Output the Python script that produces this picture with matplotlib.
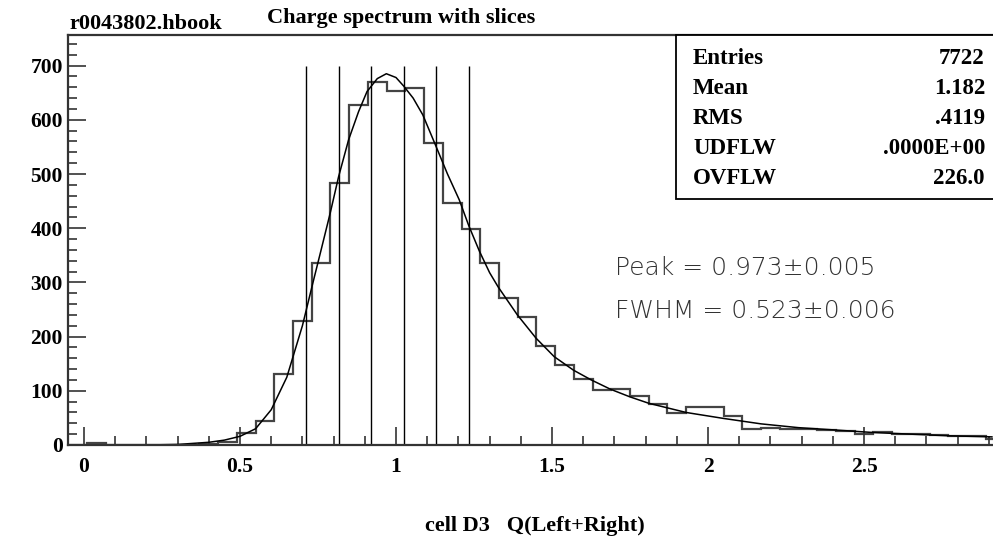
import numpy as np
import matplotlib
matplotlib.use("Agg")
import matplotlib.pyplot as plt
from matplotlib.patches import Rectangle
from matplotlib.ticker import MultipleLocator

# ---------------- data ----------------
bin_lo = -0.05
bin_width = 0.06
counts = [0, 3, 0, 0, 0, 0, 0, 1, 5, 23, 44, 131, 228, 336, 484, 627, 670, 653,
          659, 558, 447, 398, 335, 272, 236, 182, 148, 122, 101, 103, 91, 75, 59,
          70, 70, 53, 29, 32, 30, 29, 27, 25, 21, 24, 20, 20, 18, 16.5, 16.5, 11]

fit_x = [0.20, 0.30, 0.35, 0.40, 0.45, 0.50, 0.55, 0.60, 0.65, 0.70, 0.734, 0.76,
         0.79, 0.816, 0.848, 0.88, 0.907, 0.94, 0.969, 1.00, 1.025, 1.055, 1.086,
         1.129, 1.165, 1.203, 1.233, 1.267, 1.30, 1.327, 1.389, 1.449, 1.507,
         1.569, 1.626, 1.687, 1.749, 1.81, 1.93, 2.05, 2.17, 2.29, 2.40, 2.53,
         2.65, 2.77, 2.91]
fit_y = [0, 1, 3, 5, 9, 16, 30, 65, 125, 220, 300, 360, 430, 495, 563, 615, 652,
         676, 685, 678, 662, 640, 609, 550, 500, 452, 405, 358, 318, 292, 240,
         197, 163, 138, 120, 103, 89, 77, 60, 49, 39, 32, 28, 23, 20, 17, 15]

slice_x = [0.712, 0.816, 0.921, 1.025, 1.129, 1.234]
slice_top = 700

stat_names = ["Entries", "Mean", "RMS", "UDFLW", "OVFLW"]
stat_values = ["7722", "1.182", ".4119", ".0000E+00", "226.0"]

x_ticks = [0, 0.5, 1, 1.5, 2, 2.5]
x_ticklabels = ["0", "0.5", "1", "1.5", "2", "2.5"]
y_ticks = [0, 100, 200, 300, 400, 500, 600, 700]

peak_text = "Peak = 0.973\u00b10.005"
fwhm_text = "FWHM = 0.523\u00b10.006"
file_label = "r0043802.hbook"
title = "Charge spectrum with slices"
xlabel = "cell D3   Q(Left+Right)"

# ---------------- figure ----------------
W, H = 993, 539
fig = plt.figure(figsize=(W / 100, H / 100), dpi=100)

def fx(px):
    return px / W

def fy(py):
    return 1 - py / H

serif = ["Liberation Serif", "DejaVu Serif"]
ax_left, ax_right, ax_top, ax_bot = 68.4, 993.0, 35.0, 445.0
ax = fig.add_axes([fx(ax_left), fy(ax_bot), fx(ax_right - ax_left), (ax_bot - ax_top) / H])

px_per_unit = 312.0
ax.set_xlim(bin_lo, bin_lo + (ax_right - ax_left) / px_per_unit)
ax.set_ylim(0, (ax_bot - ax_top) / 0.542)

edges = bin_lo + bin_width * np.arange(len(counts) + 1)
ax.stairs(counts, edges, color="#444444", linewidth=1.6, baseline=None)

ax.plot(fit_x, fit_y, color="black", linewidth=1.1)
ax.vlines(slice_x, 0, slice_top, color="black", linewidth=1.0)

for side in ["left", "bottom", "top"]:
    ax.spines[side].set_linewidth(1.6)
    ax.spines[side].set_color("#333333")
ax.spines["right"].set_visible(False)

ax.set_xticks(x_ticks)
ax.set_xticklabels(x_ticklabels)
ax.set_yticks(y_ticks)
ax.xaxis.set_minor_locator(MultipleLocator(0.1))
ax.yaxis.set_minor_locator(MultipleLocator(20))
ax.tick_params(which="both", direction="in", top=False, right=False, color="#333333", width=1.2)
ax.tick_params(which="major", length=13)
ax.tick_params(which="minor", length=6.5)
ax.tick_params(axis="x", which="major", pad=9)
ax.tick_params(axis="y", which="major", pad=4)
for lab in ax.get_xticklabels() + ax.get_yticklabels():
    lab.set_fontfamily(serif)
    lab.set_fontweight("bold")
    lab.set_fontsize(15.5)

# titles
fig.text(fx(69), fy(29), file_label, family=serif, weight="bold", fontsize=16,
         ha="left", va="baseline")
fig.text(fx(401), fy(23), title, family=serif, weight="bold", fontsize=16,
         ha="center", va="baseline")
fig.text(fx(535), fy(531), xlabel, family=serif, weight="bold", fontsize=16,
         ha="center", va="baseline")

# stats box
box = Rectangle((fx(676), fy(199)), fx(993 - 676) + 0.01, (199 - 35) / H,
                transform=fig.transFigure, facecolor="white", edgecolor="black",
                linewidth=1.3, zorder=5)
fig.add_artist(box)
for i, (n, v) in enumerate(zip(stat_names, stat_values)):
    base = 64.5 + 30 * i
    fig.text(fx(693), fy(base), n, family=serif, weight="bold", fontsize=16.5,
             ha="left", va="baseline", zorder=6)
    fig.text(fx(985), fy(base), v, family=serif, weight="bold", fontsize=16.5,
             ha="right", va="baseline", zorder=6)

# fit results
fig.text(fx(615), fy(275), peak_text, family=["DejaVu Sans"], weight="light",
         fontsize=18, color="#333333", ha="left", va="baseline")
fig.text(fx(615), fy(318), fwhm_text, family=["DejaVu Sans"], weight="light",
         fontsize=18, color="#333333", ha="left", va="baseline")

fig.savefig("out.png", dpi=100)
